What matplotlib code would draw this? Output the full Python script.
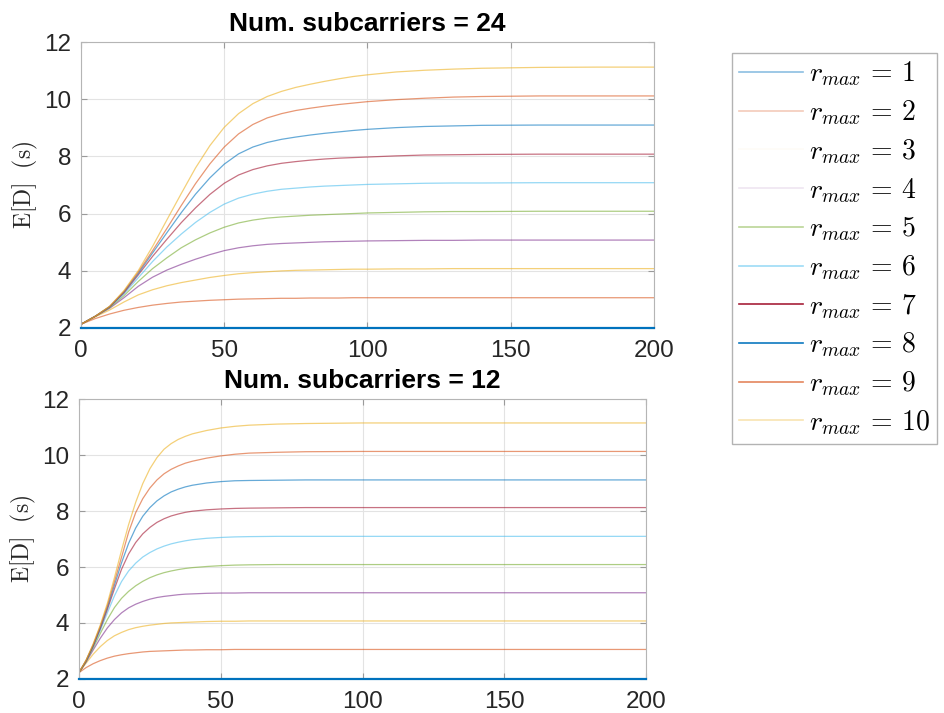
import matplotlib
matplotlib.use("Agg")
import matplotlib.pyplot as plt
from matplotlib.lines import Line2D

# x positions (time) and E[D] readings, 24 subcarriers
x_24 = [0, 5, 10, 15, 20, 25, 30, 35, 40, 45, 50, 55, 60, 65, 70, 75, 80, 85, 90, 95, 100,
        110, 120, 130, 140, 160, 180, 200]
ed24_r1 = [2.0] * 28
ed24_r2 = [2.12, 2.32, 2.48, 2.61, 2.71, 2.79, 2.85, 2.90, 2.93, 2.96, 2.98, 3.00, 3.01, 3.02, 3.03, 3.03, 3.04, 3.04, 3.04, 3.05, 3.05,
           3.05, 3.05, 3.05, 3.05, 3.05, 3.05, 3.05]
ed24_r3 = [2.12, 2.38, 2.62, 2.90, 3.15, 3.33, 3.47, 3.58, 3.67, 3.76, 3.83, 3.89, 3.93, 3.96, 3.99, 4.01, 4.02, 4.03, 4.04, 4.05, 4.05,
           4.06, 4.06, 4.07, 4.07, 4.07, 4.07, 4.07]
ed24_r4 = [2.12, 2.40, 2.68, 3.05, 3.45, 3.77, 4.02, 4.22, 4.40, 4.56, 4.70, 4.80, 4.87, 4.92, 4.95, 4.97, 4.99, 5.01, 5.02, 5.03, 5.04,
           5.05, 5.06, 5.06, 5.07, 5.07, 5.07, 5.07]
ed24_r5 = [2.12, 2.40, 2.70, 3.12, 3.62, 4.07, 4.45, 4.80, 5.08, 5.32, 5.52, 5.67, 5.77, 5.84, 5.88, 5.91, 5.94, 5.96, 5.98, 6.00, 6.02,
           6.04, 6.06, 6.07, 6.07, 6.08, 6.08, 6.08]
ed24_r6 = [2.12, 2.40, 2.72, 3.18, 3.75, 4.32, 4.83, 5.28, 5.69, 6.04, 6.33, 6.54, 6.68, 6.78, 6.85, 6.89, 6.93, 6.96, 6.98, 7.00, 7.02,
           7.04, 7.06, 7.07, 7.07, 7.08, 7.08, 7.08]
ed24_r7 = [2.12, 2.40, 2.73, 3.22, 3.85, 4.50, 5.10, 5.68, 6.20, 6.67, 7.06, 7.35, 7.54, 7.67, 7.76, 7.82, 7.87, 7.91, 7.94, 7.96, 7.98,
           8.02, 8.05, 8.06, 8.07, 8.08, 8.08, 8.08]
ed24_r8 = [2.12, 2.40, 2.74, 3.25, 3.90, 4.62, 5.33, 6.03, 6.68, 7.25, 7.73, 8.09, 8.33, 8.49, 8.60, 8.68, 8.75, 8.81, 8.86, 8.91, 8.95,
           9.01, 9.05, 9.07, 9.09, 9.10, 9.10, 9.10]
ed24_r9 = [2.12, 2.40, 2.74, 3.27, 3.95, 4.70, 5.48, 6.28, 7.05, 7.74, 8.33, 8.79, 9.12, 9.35, 9.50, 9.61, 9.69, 9.76, 9.82, 9.87, 9.92,
           9.99, 10.04, 10.08, 10.10, 10.12, 10.12, 10.12]
ed24_r10 = [2.12, 2.40, 2.75, 3.30, 4.00, 4.85, 5.78, 6.70, 7.60, 8.38, 9.02, 9.50, 9.85, 10.10, 10.28, 10.42, 10.53, 10.63, 10.72, 10.80, 10.86,
            10.96, 11.02, 11.06, 11.09, 11.12, 11.13, 11.13]

# 12 subcarriers
x_12 = [0, 2.5, 5, 7.5, 10, 12.5, 15, 17.5, 20, 22.5, 25, 27.5, 30, 32.5, 35, 37.5, 40,
        45, 50, 55, 60, 70, 80, 100, 150, 200]
ed12_r1 = [2.0] * 26
ed12_r2 = [2.22, 2.40, 2.54, 2.65, 2.74, 2.81, 2.86, 2.90, 2.93, 2.96, 2.98, 2.99, 3.00, 3.01, 3.02, 3.03, 3.03,
           3.04, 3.04, 3.05, 3.05, 3.05, 3.05, 3.05, 3.05, 3.05]
ed12_r3 = [2.22, 2.56, 2.88, 3.15, 3.37, 3.54, 3.66, 3.76, 3.83, 3.88, 3.92, 3.95, 3.98, 4.00, 4.01, 4.02, 4.03,
           4.05, 4.06, 4.06, 4.07, 4.07, 4.07, 4.07, 4.07, 4.07]
ed12_r4 = [2.22, 2.60, 3.03, 3.45, 3.82, 4.12, 4.36, 4.54, 4.67, 4.77, 4.85, 4.91, 4.95, 4.98, 5.01, 5.03, 5.04,
           5.06, 5.07, 5.07, 5.08, 5.08, 5.08, 5.08, 5.08, 5.08]
ed12_r5 = [2.22, 2.62, 3.10, 3.62, 4.12, 4.55, 4.88, 5.13, 5.33, 5.49, 5.62, 5.72, 5.80, 5.86, 5.91, 5.95, 5.98,
           6.02, 6.05, 6.07, 6.08, 6.09, 6.09, 6.09, 6.09, 6.09]
ed12_r6 = [2.22, 2.63, 3.14, 3.73, 4.36, 4.97, 5.48, 5.86, 6.14, 6.36, 6.52, 6.65, 6.75, 6.83, 6.89, 6.94, 6.98,
           7.03, 7.06, 7.08, 7.09, 7.10, 7.10, 7.10, 7.10, 7.10]
ed12_r7 = [2.22, 2.64, 3.17, 3.79, 4.48, 5.22, 5.92, 6.47, 6.88, 7.19, 7.42, 7.60, 7.73, 7.83, 7.90, 7.96, 8.00,
           8.05, 8.08, 8.10, 8.11, 8.12, 8.13, 8.13, 8.13, 8.13]
ed12_r8 = [2.22, 2.65, 3.20, 3.84, 4.55, 5.35, 6.15, 6.85, 7.40, 7.82, 8.13, 8.37, 8.55, 8.69, 8.79, 8.87, 8.93,
           9.01, 9.06, 9.09, 9.10, 9.11, 9.12, 9.12, 9.12, 9.12]
ed12_r9 = [2.22, 2.66, 3.22, 3.88, 4.62, 5.48, 6.35, 7.25, 7.95, 8.45, 8.83, 9.12, 9.34, 9.50, 9.62, 9.72, 9.79,
           9.90, 9.98, 10.04, 10.08, 10.11, 10.13, 10.14, 10.14, 10.14]
ed12_r10 = [2.22, 2.67, 3.25, 3.92, 4.70, 5.62, 6.60, 7.52, 8.32, 8.99, 9.52, 9.92, 10.22, 10.42, 10.57, 10.68, 10.77,
            10.89, 10.98, 11.04, 11.08, 11.12, 11.14, 11.16, 11.16, 11.16]

r_max = [1, 2, 3, 4, 5, 6, 7, 8, 9, 10]
titles = ["Num. subcarriers = 24", "Num. subcarriers = 12"]

# MATLAB default line colour order
matlab_colors = ["#0072BD", "#D95319", "#EDB120", "#7E2F8E", "#77AC30",
                 "#4DBEEE", "#A2142F", "#0072BD", "#D95319", "#EDB120"]
# how strongly each entry shows up in the legend of the reference
legend_alpha = [0.45, 0.3, 0.04, 0.12, 0.5, 0.55, 0.95, 0.95, 0.7, 0.35]

plt.rcParams["mathtext.fontset"] = "cm"
plt.rcParams["font.family"] = ["Liberation Sans", "DejaVu Sans"]

fig = plt.figure(figsize=(9.45, 7.13), dpi=100)
ax_top = fig.add_axes([0.0857, 0.5404, 0.6063, 0.4003])
ax_bot = fig.add_axes([0.0836, 0.0480, 0.6000, 0.3917])

series = [
    (ax_top, x_24, [ed24_r1, ed24_r2, ed24_r3, ed24_r4, ed24_r5, ed24_r6, ed24_r7, ed24_r8, ed24_r9, ed24_r10]),
    (ax_bot, x_12, [ed12_r1, ed12_r2, ed12_r3, ed12_r4, ed12_r5, ed12_r6, ed12_r7, ed12_r8, ed12_r9, ed12_r10]),
]

for k, (ax, xs, curves) in enumerate(series):
    for i, ys in enumerate(curves):
        if i == 0:
            ax.plot(xs, ys, color=matlab_colors[i], lw=1.6, zorder=5, clip_on=False)
        else:
            ax.plot(xs, ys, color=matlab_colors[i], lw=0.9, alpha=0.6)
    ax.set_xlim(0, 200)
    ax.set_ylim(2, 12)
    ax.set_xticks([0, 50, 100, 150, 200])
    ax.set_yticks([2, 4, 6, 8, 10, 12])
    ax.grid(True, color="#e3e3e3", lw=0.8)
    ax.set_axisbelow(True)
    ax.tick_params(direction="in", top=True, right=True, length=4, width=0.8,
                   colors="#9a9a9a", labelcolor="#262626", labelsize=17.5)
    ax.tick_params(axis="x", pad=9)
    ax.tick_params(axis="y", pad=7)
    for side in ["top", "right", "left"]:
        ax.spines[side].set_color("#b5b5b5")
    ax.spines["bottom"].set_color("#262626")
    ax.spines["bottom"].set_linewidth(1.2)
    ax.set_title(titles[k], fontsize=19, fontweight="bold", pad=8)
    ax.set_ylabel(r"$\mathrm{E[D]\ \ (s)}$", fontsize=17, color="#262626", labelpad=3)

# legend with faded sample lines like the reference
leg_handles = [Line2D([0], [0], color=matlab_colors[i], lw=1.2, alpha=legend_alpha[i]) for i in range(10)]
leg_labels = [r"$r_{max}\,=\,%d$" % r for r in r_max]
leg = fig.legend(leg_handles, leg_labels, loc="upper left", bbox_to_anchor=(0.775, 0.926),
                 fontsize=20, frameon=True, fancybox=False, edgecolor="#a0a0a0",
                 handlelength=2.3, handletextpad=0.2, labelspacing=0.36, borderpad=0.25,
                 borderaxespad=0)
leg.get_frame().set_linewidth(1.0)

fig.savefig("out.png", dpi=100)
